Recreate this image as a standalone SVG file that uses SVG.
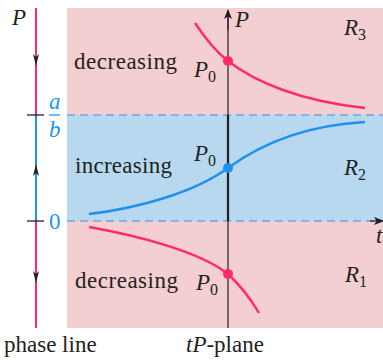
<svg xmlns="http://www.w3.org/2000/svg" width="383" height="360" viewBox="0 0 383 360">
<defs>
<style>
.t{font-family:"Liberation Serif","Times New Roman",serif;font-size:23px;fill:#231f20}
.i{font-style:italic}
.s{font-size:16px;font-style:normal}
.b{fill:#2196f3}
.pink{stroke:#ff2a6d;fill:none;stroke-width:2.4}
.blue{stroke:#1e90f0;fill:none;stroke-width:2.4}
.dash{stroke:#6aa6e6;stroke-width:1.3;stroke-dasharray:8 5}
</style>
<marker id="ah" viewBox="0 0 10 10" refX="9" refY="5" markerWidth="10" markerHeight="10" markerUnits="userSpaceOnUse" orient="auto">
<path d="M0,1 L10,5 L0,9 L2.5,5 Z" fill="#231f20"/>
</marker>
</defs>
<g id="regions">
<rect x="67" y="8" width="316" height="320" fill="#f4cfd1"/>
<rect x="67" y="115" width="316" height="106" fill="#b8d8f0"/>
<line class="dash" x1="67" y1="115" x2="383" y2="115"/>
<line class="dash" x1="67" y1="221" x2="378" y2="221"/>
</g>
<g id="phase-line">
<line x1="36" y1="8" x2="36" y2="115" stroke="#ff2a6d" stroke-width="2"/>
<line x1="36" y1="115" x2="36" y2="221" stroke="#1e90f0" stroke-width="2"/>
<line x1="36" y1="221" x2="36" y2="328" stroke="#ff2a6d" stroke-width="2"/>
<line x1="27" y1="115" x2="44" y2="115" stroke="#231f20" stroke-width="1.3"/>
<line x1="27" y1="221" x2="44" y2="221" stroke="#231f20" stroke-width="1.3"/>
<path d="M33,54 L36,66 L39,54 L36,57 Z" fill="#231f20"/>
<path d="M33,176 L36,164 L39,176 L36,173 Z" fill="#231f20"/>
<path d="M33,271 L36,283 L39,271 L36,274 Z" fill="#231f20"/>
<text class="t i" x="12" y="25">P</text>
<text class="t i b" x="49" y="109">a</text>
<line x1="49" y1="115" x2="60" y2="115" stroke="#2196f3" stroke-width="1.3"/>
<text class="t i b" x="49" y="137">b</text>
<text class="t b" x="49" y="229">0</text>
<text class="t" x="4" y="352">phase line</text>
</g>
<g id="axes">
<line x1="228" y1="16" x2="228" y2="328" stroke="#231f20" stroke-width="1.2"/>
<line x1="228" y1="115" x2="228" y2="221" stroke="#231f20" stroke-width="2.2"/>
<line x1="228" y1="30" x2="228" y2="10" stroke="#231f20" stroke-width="1.2" marker-end="url(#ah)"/>
<line x1="370" y1="221" x2="383" y2="221" stroke="#231f20" stroke-width="1.2" marker-end="url(#ah)"/>
<text class="t i" x="235" y="27">P</text>
<text class="t i" x="376" y="243">t</text>
<text class="t" x="186" y="352"><tspan class="i">tP</tspan>-plane</text>
</g>
<g id="curve-top">
<path class="pink" d="M195,23 C205,38 215,51 228,61 C255,82 300,101 365,108"/>
<circle cx="228" cy="61" r="5" fill="#ff2a6d"/>
<text class="t i" x="194" y="77">P<tspan class="s" dy="5">0</tspan></text>
</g>
<g id="curve-mid">
<path class="blue" d="M89,214 C140,208 195,192 228,168 C265,141 310,125 365,122"/>
<circle cx="228" cy="168" r="5" fill="#1e90f0"/>
<text class="t i" x="194" y="161">P<tspan class="s" dy="5">0</tspan></text>
</g>
<g id="curve-bottom">
<path class="pink" d="M89,227 C140,236 200,252 228,274 C240,285 250,298 259,313"/>
<circle cx="228" cy="274" r="5" fill="#ff2a6d"/>
<text class="t i" x="196" y="290">P<tspan class="s" dy="5">0</tspan></text>
</g>
<g id="labels">
<text class="t" x="74" y="69" textLength="103">decreasing</text>
<text class="t" x="75" y="173" textLength="97">increasing</text>
<text class="t" x="75" y="288" textLength="103">decreasing</text>
<text class="t i" x="344" y="35">R<tspan class="s" dy="5">3</tspan></text>
<text class="t i" x="344" y="175">R<tspan class="s" dy="5">2</tspan></text>
<text class="t i" x="345" y="282">R<tspan class="s" dy="5">1</tspan></text>
</g>
</svg>
